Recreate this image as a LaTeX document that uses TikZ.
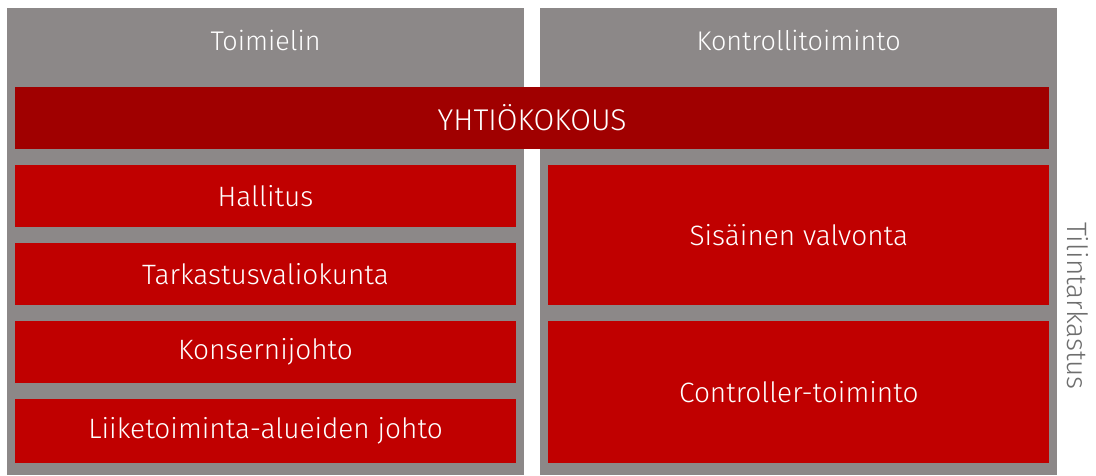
\documentclass[tikz,border=0pt]{standalone}
\usepackage{fontspec}
\setmainfont{Fira Sans Light}
\definecolor{colgray}{HTML}{8C8888}
\definecolor{coldark}{HTML}{A00000}
\definecolor{colred}{HTML}{C00000}
\definecolor{coltext}{HTML}{6E6E6E}
\begin{document}
\begin{tikzpicture}[x=1pt,y=-1pt,
  col/.style={fill=colgray,draw=none},
  hdr/.style={text=white,font=\fontsize{27}{30}\selectfont,inner sep=0pt},
  redbox/.style={fill=colred,draw=none,inner sep=0pt,text=white,font=\fontsize{28}{31}\selectfont},
  darkbox/.style={fill=coldark,draw=none,inner sep=0pt,text=white,font=\fontsize{30}{33}\selectfont}]
\useasboundingbox (0,0) rectangle (1096,475);
\fill[white] (0,0) rectangle (1096,475);
\path[col] (7,8) rectangle (524.3,475);
\path[col] (540,8) rectangle (1057.3,475);
\node[hdr] (toimielin) at (265.6,40) {Toimielin};
\node[hdr] (kontrolli) at (798.6,40) {Kontrollitoiminto};
\node[darkbox,minimum width=1034.3pt,minimum height=62.3pt] (yhtio) at (532.15,117.85) {YHTIÖKOKOUS};
\node[redbox,minimum width=501pt,minimum height=61.7pt] (hallitus) at (265.5,195.85) {Hallitus};
\node[redbox,minimum width=501pt,minimum height=61.7pt] (tarkastus) at (265.5,274.15) {Tarkastusvaliokunta};
\node[redbox,minimum width=501pt,minimum height=62.3pt] (konserni) at (265.5,352.15) {Konsernijohto};
\node[redbox,minimum width=501pt,minimum height=63.7pt] (liike) at (265.5,430.85) {Liiketoiminta-alueiden johto};
\node[redbox,minimum width=501pt,minimum height=140pt] (sisainen) at (798.8,235) {Sisäinen valvonta};
\node[redbox,minimum width=501pt,minimum height=141.7pt] (controller) at (798.8,391.85) {Controller-toiminto};
\node[text=coltext,font=\fontsize{28}{31}\selectfont,rotate=-90,inner sep=0pt] (tilin) at (1078,306) {Tilintarkastus};
\end{tikzpicture}
\end{document}
